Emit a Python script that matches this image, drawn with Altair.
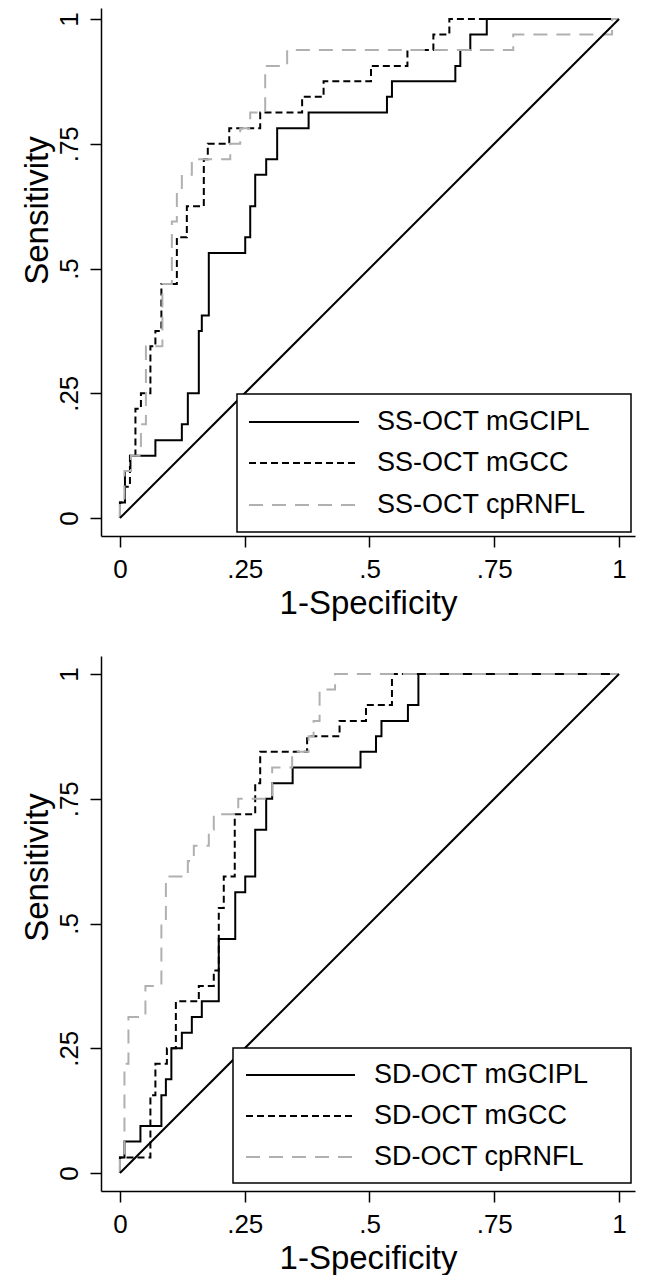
import altair as alt
import pandas as pd

# ---------------- data ----------------
series_ss = ["SS-OCT mGCIPL", "SS-OCT mGCC", "SS-OCT cpRNFL"]
series_sd = ["SD-OCT mGCIPL", "SD-OCT mGCC", "SD-OCT cpRNFL"]

# Top panel (SS-OCT) ROC vertices: 1-specificity (x) and sensitivity (y)
ss_gcipl_x = [0, 0, 0.01, 0.01, 0.021, 0.021, 0.071, 0.071, 0.124, 0.124, 0.136, 0.136,
              0.158, 0.158, 0.164, 0.164, 0.178, 0.178, 0.251, 0.251, 0.261, 0.261, 0.271,
              0.271, 0.293, 0.293, 0.315, 0.315, 0.378, 0.378, 0.535, 0.535, 0.545, 0.545,
              0.672, 0.672, 0.682, 0.682, 0.702, 0.702, 0.735, 0.735, 1]
ss_gcipl_y = [0, 0.031, 0.031, 0.094, 0.094, 0.125, 0.125, 0.156, 0.156, 0.188, 0.188, 0.25,
              0.25, 0.375, 0.375, 0.406, 0.406, 0.531, 0.531, 0.5625, 0.5625, 0.625, 0.625,
              0.688, 0.688, 0.719, 0.719, 0.781, 0.781, 0.8125, 0.8125, 0.844, 0.844, 0.875,
              0.875, 0.906, 0.906, 0.938, 0.938, 0.969, 0.969, 1, 1]

ss_gcc_x = [0, 0, 0.01, 0.01, 0.02, 0.02, 0.031, 0.031, 0.042, 0.042, 0.061, 0.061, 0.071,
            0.071, 0.083, 0.083, 0.114, 0.114, 0.134, 0.134, 0.168, 0.168, 0.176, 0.176,
            0.219, 0.219, 0.281, 0.281, 0.365, 0.365, 0.408, 0.408, 0.503, 0.503, 0.576,
            0.576, 0.628, 0.628, 0.66, 0.66, 1]
ss_gcc_y = [0, 0.031, 0.031, 0.0625, 0.0625, 0.125, 0.125, 0.219, 0.219, 0.25, 0.25, 0.344,
            0.344, 0.375, 0.375, 0.469, 0.469, 0.5625, 0.5625, 0.625, 0.625, 0.719, 0.719,
            0.75, 0.75, 0.781, 0.781, 0.8125, 0.8125, 0.844, 0.844, 0.875, 0.875, 0.906,
            0.906, 0.938, 0.938, 0.969, 0.969, 1, 1]

ss_rnfl_x = [0, 0, 0.009, 0.009, 0.022, 0.022, 0.042, 0.042, 0.052, 0.052, 0.085, 0.085,
             0.104, 0.104, 0.114, 0.114, 0.124, 0.124, 0.144, 0.144, 0.221, 0.221, 0.241,
             0.241, 0.261, 0.261, 0.291, 0.291, 0.335, 0.335, 0.788, 0.788, 0.986, 0.986, 1]
ss_rnfl_y = [0, 0.031, 0.031, 0.094, 0.094, 0.125, 0.125, 0.188, 0.188, 0.344, 0.344, 0.469,
             0.469, 0.594, 0.594, 0.656, 0.656, 0.688, 0.688, 0.719, 0.719, 0.75, 0.75,
             0.781, 0.781, 0.8125, 0.8125, 0.906, 0.906, 0.938, 0.938, 0.969, 0.969, 1, 1]

# Bottom panel (SD-OCT)
sd_gcipl_x = [0, 0, 0.009, 0.009, 0.041, 0.041, 0.083, 0.083, 0.092, 0.092, 0.103, 0.103,
              0.124, 0.124, 0.144, 0.144, 0.164, 0.164, 0.198, 0.198, 0.231, 0.231, 0.251,
              0.251, 0.271, 0.271, 0.293, 0.293, 0.305, 0.305, 0.346, 0.346, 0.482, 0.482,
              0.513, 0.513, 0.524, 0.524, 0.577, 0.577, 0.598, 0.598, 1]
sd_gcipl_y = [0, 0.031, 0.031, 0.063, 0.063, 0.094, 0.094, 0.156, 0.156, 0.188, 0.188, 0.25,
              0.25, 0.281, 0.281, 0.3125, 0.3125, 0.344, 0.344, 0.469, 0.469, 0.5625, 0.5625,
              0.594, 0.594, 0.688, 0.688, 0.75, 0.75, 0.781, 0.781, 0.8125, 0.8125, 0.844,
              0.844, 0.875, 0.875, 0.906, 0.906, 0.938, 0.938, 1, 1]

sd_gcc_x = [0, 0, 0.061, 0.061, 0.071, 0.071, 0.094, 0.094, 0.112, 0.112, 0.158, 0.158,
            0.188, 0.188, 0.198, 0.198, 0.208, 0.208, 0.23, 0.23, 0.271, 0.271, 0.281, 0.281,
            0.375, 0.375, 0.44, 0.44, 0.493, 0.493, 0.545, 0.545, 1]
sd_gcc_y = [0, 0.031, 0.031, 0.156, 0.156, 0.219, 0.219, 0.25, 0.25, 0.344, 0.344, 0.375,
            0.375, 0.406, 0.406, 0.531, 0.531, 0.594, 0.594, 0.719, 0.719, 0.781, 0.781,
            0.844, 0.844, 0.875, 0.875, 0.906, 0.906, 0.938, 0.938, 1, 1]

sd_rnfl_x = [0, 0, 0.009, 0.009, 0.017, 0.017, 0.051, 0.051, 0.083, 0.083, 0.092, 0.092,
             0.136, 0.136, 0.148, 0.148, 0.178, 0.178, 0.188, 0.188, 0.237, 0.237, 0.305,
             0.305, 0.345, 0.345, 0.378, 0.378, 0.388, 0.388, 0.4, 0.4, 0.431, 0.431, 1]
sd_rnfl_y = [0, 0.031, 0.031, 0.219, 0.219, 0.3125, 0.3125, 0.375, 0.375, 0.5, 0.5, 0.594,
             0.594, 0.625, 0.625, 0.656, 0.656, 0.688, 0.688, 0.719, 0.719, 0.75, 0.75,
             0.8125, 0.8125, 0.844, 0.844, 0.875, 0.875, 0.906, 0.906, 0.969, 0.969, 1, 1]

# reference (chance) line
ref_x = [0, 1]
ref_y = [0, 1]

tick_values = [0, 0.25, 0.5, 0.75, 1]
tick_labels = ["0", ".25", ".5", ".75", "1"]
x_title = "1-Specificity"
y_title = "Sensitivity"

# ---------------- styling ----------------
FONT = "Liberation Sans"
colors = ["black", "black", "#b0b0b0"]
dashes = [[1, 0], [7, 4], [14, 9]]
W = 534
X_DOMAIN = [-0.038, 1.032]

label_expr = "".join(
    f"abs(datum.value - {v}) < 1e-6 ? '{l}' : " for v, l in zip(tick_values, tick_labels)
) + "''"


def build_df(series, xs_list, ys_list):
    rows = []
    for name, xs, ys in zip(series, xs_list, ys_list):
        for i, (xv, yv) in enumerate(zip(xs, ys)):
            rows.append({"x": xv, "y": yv, "series": name, "order": i})
    return pd.DataFrame(rows)


def panel(series, xs_list, ys_list, height, y_domain, title_y, legend_box, legend_rows,
          line_x, text_x):
    df = build_df(series, xs_list, ys_list)
    xscale = alt.Scale(domain=X_DOMAIN, nice=False, zero=False)
    yscale = alt.Scale(domain=y_domain, nice=False, zero=False)
    xaxis = alt.Axis(values=tick_values, labelExpr=label_expr, title=x_title,
                     labelPadding=9, titlePadding=5)
    yaxis = alt.Axis(values=tick_values, labelExpr=label_expr, title=y_title,
                     labelAngle=270, labelAlign="center", labelBaseline="alphabetic",
                     labelPadding=13, titlePadding=2, titleY=title_y)

    curves = alt.Chart(df).mark_line(strokeWidth=2).encode(
        x=alt.X("x:Q", scale=xscale, axis=xaxis),
        y=alt.Y("y:Q", scale=yscale, axis=yaxis),
        color=alt.Color("series:N", scale=alt.Scale(domain=series, range=colors), legend=None),
        strokeDash=alt.StrokeDash("series:N", scale=alt.Scale(domain=series, range=dashes),
                                  legend=None),
        order="order:Q",
    )
    ref = alt.Chart(pd.DataFrame({"x": ref_x, "y": ref_y})).mark_line(
        strokeWidth=2, color="black").encode(x="x:Q", y="y:Q")

    one = pd.DataFrame({"k": [0]})
    bx0, bx1, by0, by1 = legend_box
    box = alt.Chart(one).mark_rect(fill="white", stroke="black", strokeWidth=1.5).encode(
        x=alt.value(bx0), x2=alt.value(bx1), y=alt.value(by0), y2=alt.value(by1))
    layers = [curves, ref, box]
    for name, col, dash, ry in zip(series, colors, dashes, legend_rows):
        layers.append(alt.Chart(one).mark_rule(strokeWidth=2, color=col, strokeDash=dash).encode(
            x=alt.value(line_x[0]), x2=alt.value(line_x[1]), y=alt.value(ry)))
        layers.append(alt.Chart(one).mark_text(align="left", baseline="middle", font=FONT,
                                               fontSize=27, color="black").encode(
            x=alt.value(text_x), y=alt.value(ry), text=alt.value(name)))
    return alt.layer(*layers).properties(width=W, height=height)


top = panel(series_ss, [ss_gcipl_x, ss_gcc_x, ss_rnfl_x], [ss_gcipl_y, ss_gcc_y, ss_rnfl_y],
            height=528, y_domain=[-0.036, 1.022], title_y=202,
            legend_box=(136, 530, 386, 524), legend_rows=[414, 455, 497],
            line_x=(148, 258), text_x=276)
bottom = panel(series_sd, [sd_gcipl_x, sd_gcc_x, sd_rnfl_x], [sd_gcipl_y, sd_gcc_y, sd_rnfl_y],
               height=535, y_domain=[-0.036, 1.036], title_y=211,
               legend_box=(132, 530, 392, 527), legend_rows=[419, 460, 501],
               line_x=(145, 254), text_x=273)

chart = alt.vconcat(top, bottom, spacing=36).properties(
    padding={"left": 12, "top": 0, "right": 5, "bottom": 0}
).configure_axis(
    grid=False, domainColor="black", domainWidth=1.5, tickColor="black", tickWidth=1.5,
    tickSize=11, labelFont=FONT, labelFontSize=26, labelColor="black",
    titleFont=FONT, titleFontSize=33, titleFontWeight="normal", titleColor="black",
).configure_view(stroke=None)

chart.save("out.html", embed_options={"renderer": "svg", "actions": False})
